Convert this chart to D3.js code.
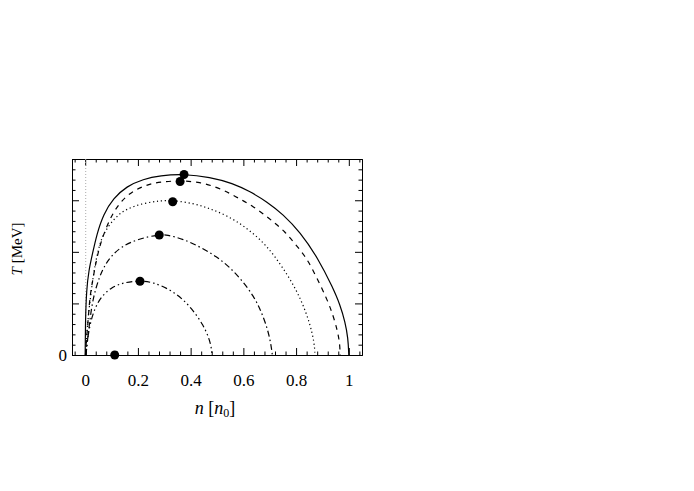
<!DOCTYPE html>
<html>
<head>
<meta charset="utf-8">
<script src="https://cdn.jsdelivr.net/npm/d3@7"></script>
<style>
  html, body { margin: 0; padding: 0; background: #fff; }
  svg { display: block; }
  text { font-family: "Liberation Serif", "DejaVu Serif", serif; fill: #000; }
</style>
</head>
<body>
<svg id="chart" width="694" height="491"></svg>
<script>
// coexistence curves, [n (n0), T (MeV)]
var solidCurve = [[0,0],[0.001,3.39],[0.005,6.30],[0.014,8.24],[0.027,9.73],[0.044,11.70],[0.069,13.64],
  [0.107,15.19],[0.157,16.35],[0.220,17.05],[0.284,17.40],[0.375,17.55],[0.473,17.25],[0.560,16.65],[0.625,15.85],
  [0.690,14.85],[0.750,13.65],[0.815,11.92],[0.883,9.40],[0.940,6.49],[0.967,4.85],[0.986,3.20],[0.997,1.65],[1.0,0]];
var dashedCurve = [[0.001,0],[0.004,1.29],[0.011,3.23],[0.017,5.53],[0.030,7.46],[0.041,9.02],[0.056,10.66],
  [0.079,12.31],[0.105,13.77],[0.140,15.03],[0.181,15.90],[0.231,16.48],[0.284,16.80],[0.360,16.90],
  [0.436,16.77],[0.499,16.26],[0.549,15.67],[0.594,15.03],[0.638,14.38],[0.682,13.57],[0.720,12.77],
  [0.758,11.95],[0.789,10.98],[0.821,10.01],[0.846,9.11],[0.879,7.46],[0.916,5.50],[0.940,3.88],
  [0.958,2.26],[0.966,1.0],[0.967,0]];
var dottedCurve = [[0.002,0],[0.007,2.42],[0.014,4.36],[0.026,6.79],[0.037,8.72],[0.052,10.46],[0.069,11.80],
  [0.113,13.35],[0.157,14.18],[0.220,14.71],[0.284,14.96],[0.332,15.0],[0.410,14.70],[0.473,14.20],
  [0.537,13.52],[0.600,12.55],[0.663,11.24],[0.714,9.79],[0.777,7.41],[0.821,5.27],[0.853,3.01],
  [0.869,1.2],[0.872,0]];
var dashDotCurve = [[0.003,0],[0.008,1.29],[0.017,3.23],[0.030,5.62],[0.055,7.66],[0.075,8.72],[0.099,9.60],
  [0.137,10.50],[0.200,11.25],[0.280,11.68],[0.309,11.65],[0.372,11.25],[0.436,10.47],[0.499,9.53],
  [0.549,8.50],[0.600,7.08],[0.638,5.72],[0.662,4.55],[0.684,3.13],[0.702,1.52],[0.710,0]];
var dashDotDotCurve = [[0.003,0],[0.007,1.1],[0.017,2.91],[0.036,4.53],[0.061,5.65],[0.099,6.57],[0.150,7.05],
  [0.208,7.22],[0.258,7.05],[0.322,6.35],[0.372,5.38],[0.410,4.31],[0.448,2.91],[0.470,1.62],
  [0.479,0.68],[0.481,0]];
var greyLine = [[0.002,0],[0.002,19]];

// critical points
var criticalN = [0.375, 0.360, 0.332, 0.281, 0.208, 0.112];
var criticalT = [17.50, 16.82, 14.86, 11.63, 7.15, 0];

var xTicks = [0, 0.2, 0.4, 0.6, 0.8, 1];
var xTickLabels = ["0", "0.2", "0.4", "0.6", "0.8", "1"];
var yTicks = [0, 5, 10, 15];
var yTickLabels = ["0", "", "", ""];

(function() {
  var svg = d3.select("#chart");
  var mLeft = 72, mRight = 362, mTop = 159, mBottom = 355;

  var x = d3.scaleLinear().domain([-0.05, 1.05]).range([mLeft, mRight]);
  var y = d3.scaleLinear().domain([0, 19]).range([mBottom, mTop]);

  // minor ticks: every 0.04 in n, every 1 MeV in T
  var xMinor = d3.range(-0.04, 1.05, 0.04).filter(function(v) { return Math.abs(v / 0.2 - Math.round(v / 0.2)) > 1e-6; });
  var yMinor = d3.range(0, 20, 1).filter(function(v) { return v % 5 !== 0; });

  function styleAxis(g) {
    g.selectAll("path.domain").attr("stroke", "#000").attr("stroke-width", 1);
    g.selectAll(".tick line").attr("stroke", "#000").attr("stroke-width", 1);
    g.selectAll(".tick text").style("font-family", '"Liberation Serif", serif').style("font-size", "17px").attr("fill", "#000");
  }

  // frame + ticks on all four sides, pointing inward
  svg.append("g").attr("transform", "translate(0," + mBottom + ")")
    .call(d3.axisBottom(x).tickValues(xMinor).tickSize(-3.5).tickSizeOuter(0).tickFormat(""))
    .call(styleAxis);
  svg.append("g").attr("transform", "translate(0," + mBottom + ")")
    .call(d3.axisBottom(x).tickValues(xTicks).tickSize(-7).tickSizeOuter(0).tickPadding(19)
      .tickFormat(function(d, i) { return xTickLabels[i]; }))
    .call(styleAxis);
  svg.append("g").attr("transform", "translate(0," + mTop + ")")
    .call(d3.axisTop(x).tickValues(xMinor).tickSize(-3.5).tickSizeOuter(0).tickFormat(""))
    .call(styleAxis);
  svg.append("g").attr("transform", "translate(0," + mTop + ")")
    .call(d3.axisTop(x).tickValues(xTicks).tickSize(-7).tickSizeOuter(0).tickFormat(""))
    .call(styleAxis);
  svg.append("g").attr("transform", "translate(" + mLeft + ",0)")
    .call(d3.axisLeft(y).tickValues(yMinor).tickSize(-3.5).tickSizeOuter(0).tickFormat(""))
    .call(styleAxis);
  svg.append("g").attr("transform", "translate(" + mLeft + ",0)")
    .call(d3.axisLeft(y).tickValues(yTicks).tickSize(-7).tickSizeOuter(0).tickPadding(5)
      .tickFormat(function(d, i) { return yTickLabels[i]; }))
    .call(styleAxis);
  svg.append("g").attr("transform", "translate(" + mRight + ",0)")
    .call(d3.axisRight(y).tickValues(yMinor).tickSize(-3.5).tickSizeOuter(0).tickFormat(""))
    .call(styleAxis);
  svg.append("g").attr("transform", "translate(" + mRight + ",0)")
    .call(d3.axisRight(y).tickValues(yTicks).tickSize(-7).tickSizeOuter(0).tickFormat(""))
    .call(styleAxis);

  var line = d3.line()
    .x(function(d) { return x(d[0]); })
    .y(function(d) { return y(d[1]); })
    .curve(d3.curveBasis);

  svg.append("path").datum(greyLine).attr("d", line)
    .attr("fill", "none").attr("stroke", "#aaa").attr("stroke-width", 1).attr("stroke-dasharray", "1,2");

  var curves = [
    { data: solidCurve, dash: null },
    { data: dashedCurve, dash: "5,5" },
    { data: dottedCurve, dash: "1.2,2.8" },
    { data: dashDotCurve, dash: "6,3,1.5,3" },
    { data: dashDotDotCurve, dash: "6,3,1.5,3,1.5,3" }
  ];
  curves.forEach(function(c) {
    svg.append("path").datum(c.data).attr("d", line)
      .attr("fill", "none").attr("stroke", "#000").attr("stroke-width", 1.2)
      .attr("stroke-dasharray", c.dash);
  });

  svg.selectAll("circle.crit").data(criticalN).enter().append("circle")
    .attr("class", "crit")
    .attr("cx", function(d) { return x(d); })
    .attr("cy", function(d, i) { return y(criticalT[i]); })
    .attr("r", 4.5)
    .attr("fill", "#000");

  // axis titles
  var yTitle = svg.append("text")
    .attr("transform", "translate(22,249) rotate(-90)")
    .attr("text-anchor", "middle")
    .style("font-size", "15px");
  yTitle.append("tspan").style("font-style", "italic").text("T");
  yTitle.append("tspan").text(" [MeV]");

  var xTitle = svg.append("text")
    .attr("x", 215).attr("y", 414)
    .attr("text-anchor", "middle")
    .style("font-size", "18px");
  xTitle.append("tspan").style("font-style", "italic").text("n");
  xTitle.append("tspan").text(" [");
  xTitle.append("tspan").style("font-style", "italic").text("n");
  xTitle.append("tspan").attr("dy", 3).style("font-size", "12px").text("0");
  xTitle.append("tspan").attr("dy", -3).text("]");
})();
</script>
</body>
</html>
